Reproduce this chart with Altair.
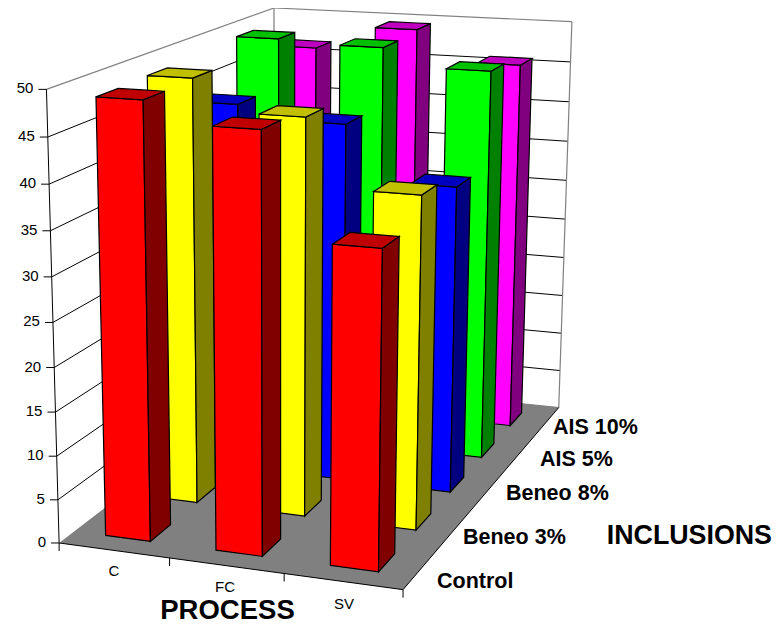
import altair as alt
import numpy as np
import pandas as pd

processes = ["C", "FC", "SV"]
inclusions = ["Control", "Beneo 3%", "Beneo 8%", "AIS 5%", "AIS 10%"]
ticks = [0, 5, 10, 15, 20, 25, 30, 35, 40, 45, 50]
control = [48.8, 46.5, 35.1]
beneo3 = [49.0, 45.5, 37.9]
beneo8 = [43.9, 42.4, 36.1]
ais5 = [49.6, 49.2, 47.1]
ais10 = [46.6, 49.5, 45.8]
series = [control, beneo3, beneo8, ais5, ais10]
front_colors = ["#FF0000", "#FFFF00", "#0000FF", "#00FF00", "#FF00FF"]
side_colors = ["#800000", "#808000", "#000080", "#008000", "#800080"]
top_colors = ["#C00000", "#C0C000", "#0000C0", "#00C000", "#C000C0"]

# Camera fitted to the box corners: (process, inclusion, value) -> page pixel
corners = [((0, 0, 0), (61, 543)), ((3, 0, 0), (402.5, 590)), ((3, 5, 0), (560, 407)),
           ((0, 5, 0), (272, 378)), ((0, 0, 50), (45, 89)), ((0, 5, 50), (276, 8)),
           ((3, 5, 50), (571, 22))]
A, b = [], []
for (i, j, v), (px, py) in corners:
    X, Y, Z = i / 3, j / 5, v / 50
    A.append([X, Y, Z, 1, 0, 0, 0, 0, -px * X, -px * Y, -px * Z]); b.append(px)
    A.append([0, 0, 0, 0, X, Y, Z, 1, -py * X, -py * Y, -py * Z]); b.append(py)
H = np.append(np.linalg.lstsq(np.array(A, float), np.array(b, float), rcond=None)[0], 1).reshape(3, 4)


def project(i, j, v):
    q = H @ np.array([i / 3, j / 5, v / 50, 1])
    return float(q[0] / q[2]), float(q[1] / q[2])


def area_rows(face, pts, fill):
    xs = sorted({round(p[0], 2) for p in pts})
    rows = []
    n = len(pts)
    for x in xs:
        ys = []
        for k in range(n):
            (x0, y0), (x1, y1) = pts[k], pts[(k + 1) % n]
            x0r, x1r = round(x0, 2), round(x1, 2)
            if min(x0r, x1r) <= x <= max(x0r, x1r):
                if x0r == x1r:
                    ys += [y0, y1]
                else:
                    ys.append(y0 + (y1 - y0) * (x - x0r) / (x1r - x0r))
        rows.append({"face": face, "x": x, "y": min(ys), "y2": max(ys), "fill": fill})
    return rows


HALF_W, HALF_D = 0.205, 0.21
rows = []
n_face = 0
for j in range(4, -1, -1):
    for i in range(3):
        v = series[j][i]
        i0, i1 = i + .495 - HALF_W, i + .495 + HALF_W
        j0, j1 = j + .5 - HALF_D, j + .5 + HALF_D
        faces = [
            ([project(i0, j0, 0), project(i1, j0, 0), project(i1, j0, v), project(i0, j0, v)], front_colors[j]),
            ([project(i1, j0, 0), project(i1, j1, 0), project(i1, j1, v), project(i1, j0, v)], side_colors[j]),
            ([project(i0, j0, v), project(i1, j0, v), project(i1, j1, v), project(i0, j1, v)], top_colors[j]),
        ]
        for pts, col in faces:
            rows += area_rows(f"f{n_face:03d}", pts, col)
            n_face += 1
bars_df = pd.DataFrame(rows)
floor_df = pd.DataFrame(area_rows("floor", [project(0, 0, 0), project(3, 0, 0), project(3, 5, 0), project(0, 5, 0)], "#808080"))


def seg_rows(segs):
    out = []
    for k, (a, b_) in enumerate(segs):
        out.append({"seg": k, "x": a[0], "y": a[1]})
        out.append({"seg": k, "x": b_[0], "y": b_[1]})
    return pd.DataFrame(out)


grid = []
for t in ticks:
    if t in (0, 50):
        continue
    grid.append((project(0, 0, t), project(0, 5, t)))
    grid.append((project(0, 5, t), project(3, 5, t)))
frame = [(project(0, 0, 50), project(0, 5, 50)), (project(0, 5, 50), project(3, 5, 50)),
         (project(0, 5, 0), project(0, 5, 50)), (project(3, 5, 0), project(3, 5, 50)),
         (project(0, 5, 0), project(3, 5, 0))]
dark = [(project(0, 0, 0), project(0, 0, 50)), (project(0, 0, 0), project(3, 0, 0)), (project(3, 0, 0), project(3, 5, 0))]
for t in ticks:
    p = project(0, 0, t)
    dark.append(((p[0] - 8, p[1]), p))
for i in range(4):
    p = project(i, 0, 0)
    dark.append((p, (p[0], p[1] + 8)))

xs = alt.X("x:Q", scale=alt.Scale(domain=[8, 773], range=[0, 765]), axis=None)
ys = alt.Y("y:Q", scale=alt.Scale(domain=[8, 624], range=[0, 616]), axis=None)


def lines(df, color, width):
    return alt.Chart(df).mark_line(color=color, strokeWidth=width).encode(x=xs, y=ys, detail="seg:N", order="x:Q")


def areas(df, **kw):
    return alt.Chart(df).mark_area(orient="vertical", interpolate="linear", **kw).encode(
        x=xs, y=ys, y2="y2:Q", detail="face:N", fill=alt.Fill("fill:N", scale=None))


def label(text, x, y, size, bold=False, align="center"):
    return alt.Chart(pd.DataFrame({"t": [text]})).mark_text(
        font="Liberation Sans", fontSize=size, fontWeight="bold" if bold else "normal",
        align=align, baseline="middle", color="#000000"
    ).encode(x=alt.value(x - 8), y=alt.value(y - 8), text="t:N")


layers = [lines(seg_rows(grid), "#000000", 1), lines(seg_rows(frame), "#808080", 1.2),
          areas(floor_df), lines(seg_rows(dark), "#000000", 1),
          areas(bars_df, stroke="#000000", strokeWidth=1.2)]
for t in ticks:
    p = project(0, 0, t)
    layers.append(label(str(t), p[0] - 13, p[1] - 1, 15, align="right"))
for name, (x, y) in zip(processes, [(114, 571), (225, 587), (344, 604)]):
    layers.append(label(name, x, y, 15))
for name, (x, y) in zip(inclusions, [(437, 582), (463, 538), (506, 494), (540, 460), (553, 428)]):
    layers.append(label(name, x, y, 21.5, bold=True, align="left"))
layers.append(label("PROCESS", 227.5, 611, 27.5, bold=True))
layers.append(label("INCLUSIONS", 772, 536, 26.8, bold=True, align="right"))

chart = alt.layer(*layers).properties(
    width=765, height=616, padding=0, autosize=alt.AutoSizeParams(type="none")
).configure_view(stroke=None)
chart.save("out.html", embed_options={"renderer": "svg", "actions": False})
